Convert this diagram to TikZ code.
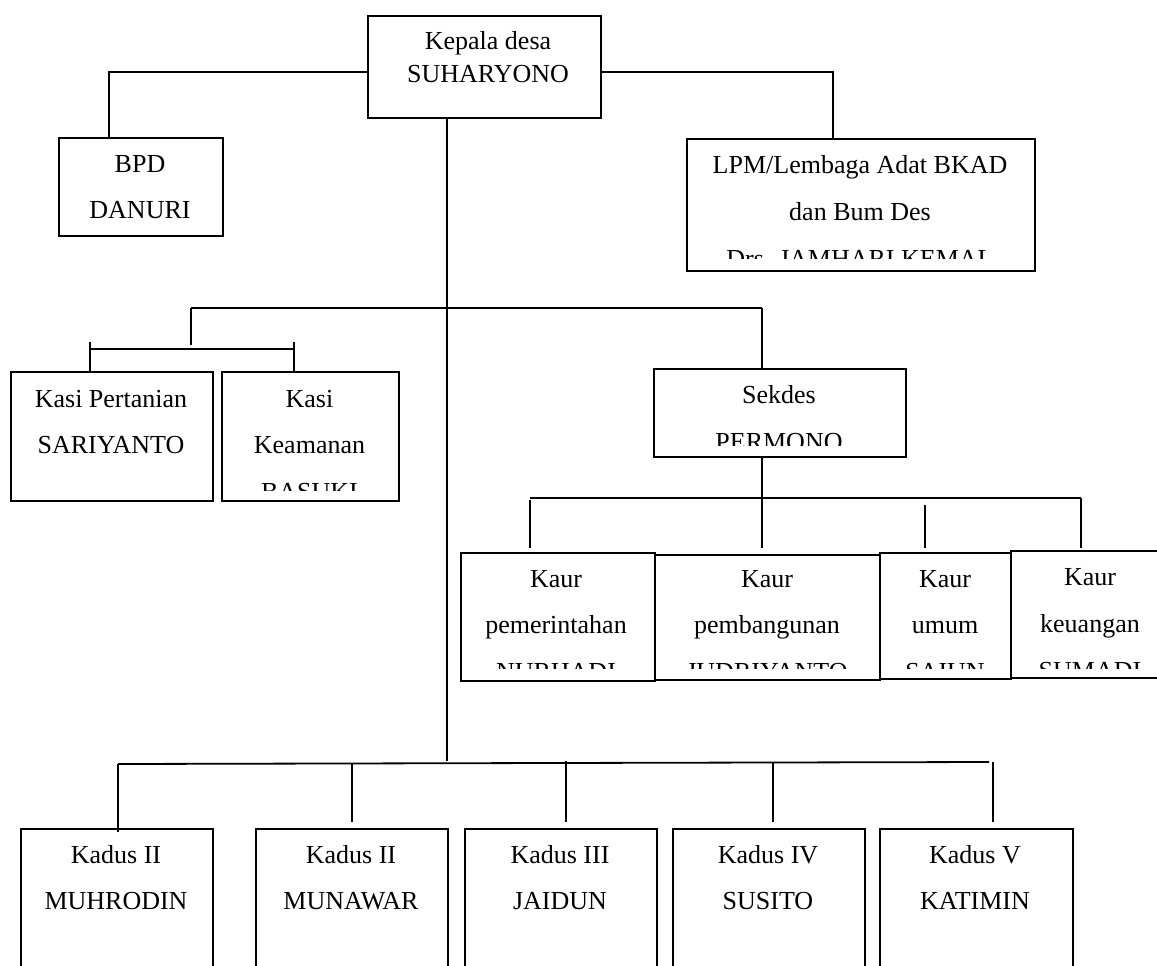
\documentclass[tikz,border=0pt]{standalone}
\usepackage{fontspec}
\setmainfont{Liberation Serif}
\begin{document}
\begin{tikzpicture}[x=1pt,y=-1pt,
  box/.style={draw, line width=1.8pt, rectangle, anchor=north west, inner sep=0pt},
  txt/.style={font=\fontsize{26}{30}\selectfont, anchor=base, inner sep=0pt},
  conn/.style={line width=1.8pt}]
\clip (0,0) rectangle (1157,966);
% boxes
\node[box, minimum width=233, minimum height=102] (kepala) at (367,15) {};
\node[box, minimum width=164, minimum height=98] (bpd) at (58,137) {};
\node[box, minimum width=348, minimum height=132] (lpm) at (686,138) {};
\node[box, minimum width=202, minimum height=129] (kasip) at (10,371) {};
\node[box, minimum width=177, minimum height=129] (kasik) at (221,371) {};
\node[box, minimum width=252, minimum height=88] (sekdes) at (653,368) {};
\node[box, minimum width=194, minimum height=128] (kaurpem) at (460,552) {};
\node[box, minimum width=225, minimum height=125] (kaurpemb) at (654,554) {};
\node[box, minimum width=131, minimum height=126] (kaurum) at (879,552) {};
\node[box, minimum width=160, minimum height=127] (kaurkeu) at (1010,550) {};
\node[box, minimum width=192, minimum height=160] (kd1) at (20,828) {};
\node[box, minimum width=192, minimum height=160] (kd2) at (255,828) {};
\node[box, minimum width=192, minimum height=160] (kd3) at (464,828) {};
\node[box, minimum width=192, minimum height=160] (kd4) at (672,828) {};
\node[box, minimum width=193, minimum height=160] (kd5) at (879,828) {};
% texts
\node[txt] (t1) at (488,50) {Kepala desa};
\node[txt] (t2) at (488,83) {SUHARYONO};
\node[txt] (t3) at (140,172) {BPD};
\node[txt] (t4) at (140,218) {DANURI};
\begin{scope}
\clip (686,138) rectangle (1034,258);
\node[txt] (t5) at (860,173) {LPM/Lembaga Adat BKAD};
\node[txt] (t6) at (860,220) {dan Bum Des};
\node[txt] (t7) at (860,267) {Drs. JAMHARI KEMAL};
\end{scope}
\node[txt] (t8) at (111,407) {Kasi Pertanian};
\node[txt] (t9) at (111,453) {SARIYANTO};
\begin{scope}
\clip (221,371) rectangle (398,490);
\node[txt] (t10) at (309.5,407) {Kasi};
\node[txt] (t11) at (309.5,453) {Keamanan};
\node[txt] (t12) at (309.5,500) {BASUKI};
\end{scope}
\begin{scope}
\clip (653,368) rectangle (905,445);
\node[txt] (t13) at (779,403) {Sekdes};
\node[txt] (t14) at (779,450) {PERMONO};
\end{scope}
\begin{scope}
\clip (440,552) rectangle (1157,668);
\node[txt] (t15) at (556,587) {Kaur};
\node[txt] (t16) at (556,633) {pemerintahan};
\node[txt] (t17) at (556,680) {NURHADI};
\node[txt] (t18) at (767,587) {Kaur};
\node[txt] (t19) at (767,633) {pembangunan};
\node[txt] (t20) at (767,680) {JUDRIYANTO};
\node[txt] (t21) at (945,587) {Kaur};
\node[txt] (t22) at (945,633) {umum};
\node[txt] (t23) at (945,680) {SAIUN};
\node[txt] (t24) at (1090,585) {Kaur};
\node[txt] (t25) at (1090,632) {keuangan};
\node[txt] (t26) at (1090,679) {SUMADI};
\end{scope}
\node[txt] (t27) at (116,863) {Kadus II};
\node[txt] (t28) at (116,909) {MUHRODIN};
\node[txt] (t29) at (351,863) {Kadus II};
\node[txt] (t30) at (351,909) {MUNAWAR};
\node[txt] (t31) at (560,863) {Kadus III};
\node[txt] (t32) at (560,909) {JAIDUN};
\node[txt] (t33) at (768,863) {Kadus IV};
\node[txt] (t34) at (768,909) {SUSITO};
\node[txt] (t35) at (975,863) {Kadus V};
\node[txt] (t36) at (975,909) {KATIMIN};
% connectors
\coordinate (kl) at (109,72);
\coordinate (kr) at (833,72);
\draw[conn] (kepala.west |- kl) -- (kl) -- (bpd.north -| kl);
\draw[conn] (kepala.east |- kr) -- (kr) -- (lpm.north -| kr);
\coordinate (trunk) at (447,761);
\draw[conn] (kepala.south -| trunk) -- (trunk);
\coordinate (hl) at (191,308);
\coordinate (hr) at (762,308);
\draw[conn] (hl) -- (hr);
\draw[conn] (hr) -- (sekdes.north -| hr);
\coordinate (kb) at (191,345);
\draw[conn] (hl) -- (kb);
\coordinate (kbl) at (90,349);
\coordinate (kbr) at (294,349);
\draw[conn] (kbl) -- (kbr);
\coordinate (kbl2) at (90,342);
\coordinate (kbr2) at (294,342);
\draw[conn] (kbl2) -- (kasip.north -| kbl2);
\draw[conn] (kbr2) -- (kasik.north -| kbr2);
\coordinate (ka) at (530,498);
\coordinate (kdd) at (1081,498);
\draw[conn] (ka) -- (kdd);
\coordinate (ka2) at (530,500);
\draw[conn] (ka2) -- (530,548);
\coordinate (kmid) at (762,548);
\draw[conn] ([yshift=2pt]sekdes.south -| kmid) -- (kmid);
\coordinate (kum) at (925,505);
\coordinate (kum2) at (925,548);
\draw[conn] (kum) -- (kum2);
\coordinate (kkeu) at (1081,548);
\draw[conn] (kdd) -- (kkeu);
\coordinate (dl) at (118,764);
\coordinate (dr) at (989,762);
\draw[conn] (dl) -- (dr);
\coordinate (dl2) at (118,832);
\draw[conn] (dl) -- (dl2);
\coordinate (d2a) at (352,764);
\coordinate (d2b) at (352,822);
\draw[conn] (d2a) -- (d2b);
\coordinate (d3a) at (566,761);
\coordinate (d3b) at (566,822);
\draw[conn] (d3a) -- (d3b);
\coordinate (d4a) at (773,762);
\coordinate (d4b) at (773,822);
\draw[conn] (d4a) -- (d4b);
\coordinate (d5a) at (993,762);
\coordinate (d5b) at (993,822);
\draw[conn] (d5a) -- (d5b);
\end{tikzpicture}
\end{document}
